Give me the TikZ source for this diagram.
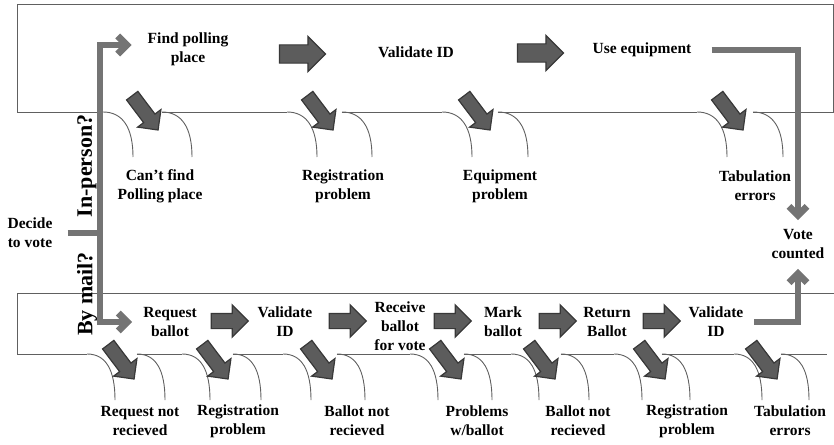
\documentclass[tikz,border=0pt]{standalone}
\usepackage{fontspec}
\setmainfont{Liberation Serif}
\usetikzlibrary{arrows.meta, shapes.arrows}
\definecolor{blockfill}{HTML}{5C5C5C}
\definecolor{blockedge}{HTML}{383838}
\definecolor{flowgray}{HTML}{747474}
\definecolor{boxgray}{HTML}{606060}

\begin{document}
\begin{tikzpicture}[x=1pt,y=-1pt]
  \tikzstyle{every node}=[font=\bfseries\fontsize{15.5}{19}\selectfont, align=center, inner sep=0pt]
  \tikzstyle{boxline}=[draw=boxgray, line width=0.9pt]
  \tikzstyle{flow}=[draw=flowgray, line width=6.8pt, -{Straight Barb[length=9pt,width=18pt]}]
  \tikzstyle{bigarrow}=[single arrow, draw=blockedge, fill=blockfill, line width=1.2pt, inner xsep=0pt, inner ysep=8.5pt, minimum height=46pt, single arrow head extend=8.5pt]
  \tikzstyle{mailarrow}=[bigarrow, inner ysep=7pt, minimum height=37pt, single arrow head extend=8.5pt]
  \tikzstyle{failarrow}=[bigarrow, inner ysep=6.5pt, minimum height=43pt, single arrow head extend=7.5pt, rotate=-53]
  \tikzstyle{askvote}=[font=\bfseries\fontsize{22}{26}\selectfont, rotate=90]

  \useasboundingbox (0,0) rectangle (834,444);

  % the two boxes, open where the problems drop out
  \draw[boxline] (103,112) -- (17,112) -- (17,4) -- (833,4) -- (833,112) -- (753,112)
    (162,112) -- (287,112) (342,112) -- (442,112) (498,112) -- (697,112);
  \foreach \a/\b in {103/162, 287/342, 442/498, 697/753}
    \draw[boxline] (\a,112) .. controls (\a+20,112) and (\a+30,128) .. (\a+30,157)
                   (\b,112) .. controls (\b+20,112) and (\b+30,128) .. (\b+30,157);
  \draw[boxline] (834,293) -- (17,293) -- (17,354) -- (87,354)
    (137,354) -- (182,354) (233,354) -- (283,354) (337,354) -- (410,354)
    (464,354) -- (511,354) (561,354) -- (614,354) (662,354) -- (734,354) (781,354) -- (827,354);
  \foreach \a/\b in {87/137, 182/233, 283/337, 410/464, 511/561, 614/662, 734/781}
    \draw[boxline] (\a,354) .. controls (\a+19,354) and (\a+28,370) .. (\a+28,400)
                   (\b,354) .. controls (\b+19,354) and (\b+28,370) .. (\b+28,400);

  % in person
  \node (find)   at (188,49) {Find polling\\place};
  \node (valid1) at (416,52) {Validate ID};
  \node (useeq)  at (642,50) {Use equipment};
  \node[bigarrow] (go1) at (298,54) {};
  \node[bigarrow] (go2) at (536,53) {};

  % by mail
  \node (request) at (170,322) {Request\\ballot};
  \node (valid2)  at (285,322) {Validate\\ID};
  \node (receive) at (400,326) {Receive\\ballot\\for vote};
  \node (mark)    at (503,322) {Mark\\ballot};
  \node (return)  at (607,322) {Return\\Ballot};
  \node (valid3)  at (716,322) {Validate\\ID};
  \foreach \x [count=\i] in {226,344,449,554,658}
    \node[mailarrow] (mailgo\i) at (\x,321) {};

  % what can go wrong
  \foreach \x [count=\i] in {143,318,475,728}
    \node[failarrow] (topfail\i) at (\x,110) {};
  \foreach \x [count=\i] in {119,213,317,446,540,650,762}
    \node[failarrow] (mailfail\i) at (\x,359) {};
  \node (cantfind)  at (160,186) {Can’t find\\Polling place};
  \node (regprob1)  at (343,186) {Registration\\problem};
  \node (equipprob) at (500,186) {Equipment\\problem};
  \node (tabul1)    at (755,186) {Tabulation\\errors};
  \node (notrecv1)  at (140,421) {Request not\\recieved};
  \node (regprob2)  at (238,421) {Registration\\problem};
  \node (notrecv2)  at (357,421) {Ballot not\\recieved};
  \node (ballotprob) at (477,421) {Problems\\w/ballot};
  \node (notrecv3)  at (578,421) {Ballot not\\recieved};
  \node (regprob3)  at (687,421) {Registration\\problem};
  \node (tabul2)    at (790,421) {Tabulation\\errors};

  % start and end
  \node (decide) at (30,233) {Decide\\to vote};
  \node[askvote] (inperson) at (87,166) {In-person?};
  \node[askvote] (bymail)   at (87,294) {By mail?};
  \node (vote) at (798,244) {Vote\\counted};

  \coordinate (split) at (100,233);
  \draw[flow, -] ([xshift=15pt]decide.east) -- (split);
  \draw[flow, shorten >=16pt] (split) |- ([yshift=4pt]find.west);
  \draw[flow, shorten >=11pt] (split) |- (request.west);
  \draw[flow, shorten <=20pt, shorten >=9pt] (useeq.east) -| (vote.north);
  \draw[flow, shorten <=11pt, shorten >=10pt] (valid3.east) -| (vote.south);
\end{tikzpicture}
\end{document}
